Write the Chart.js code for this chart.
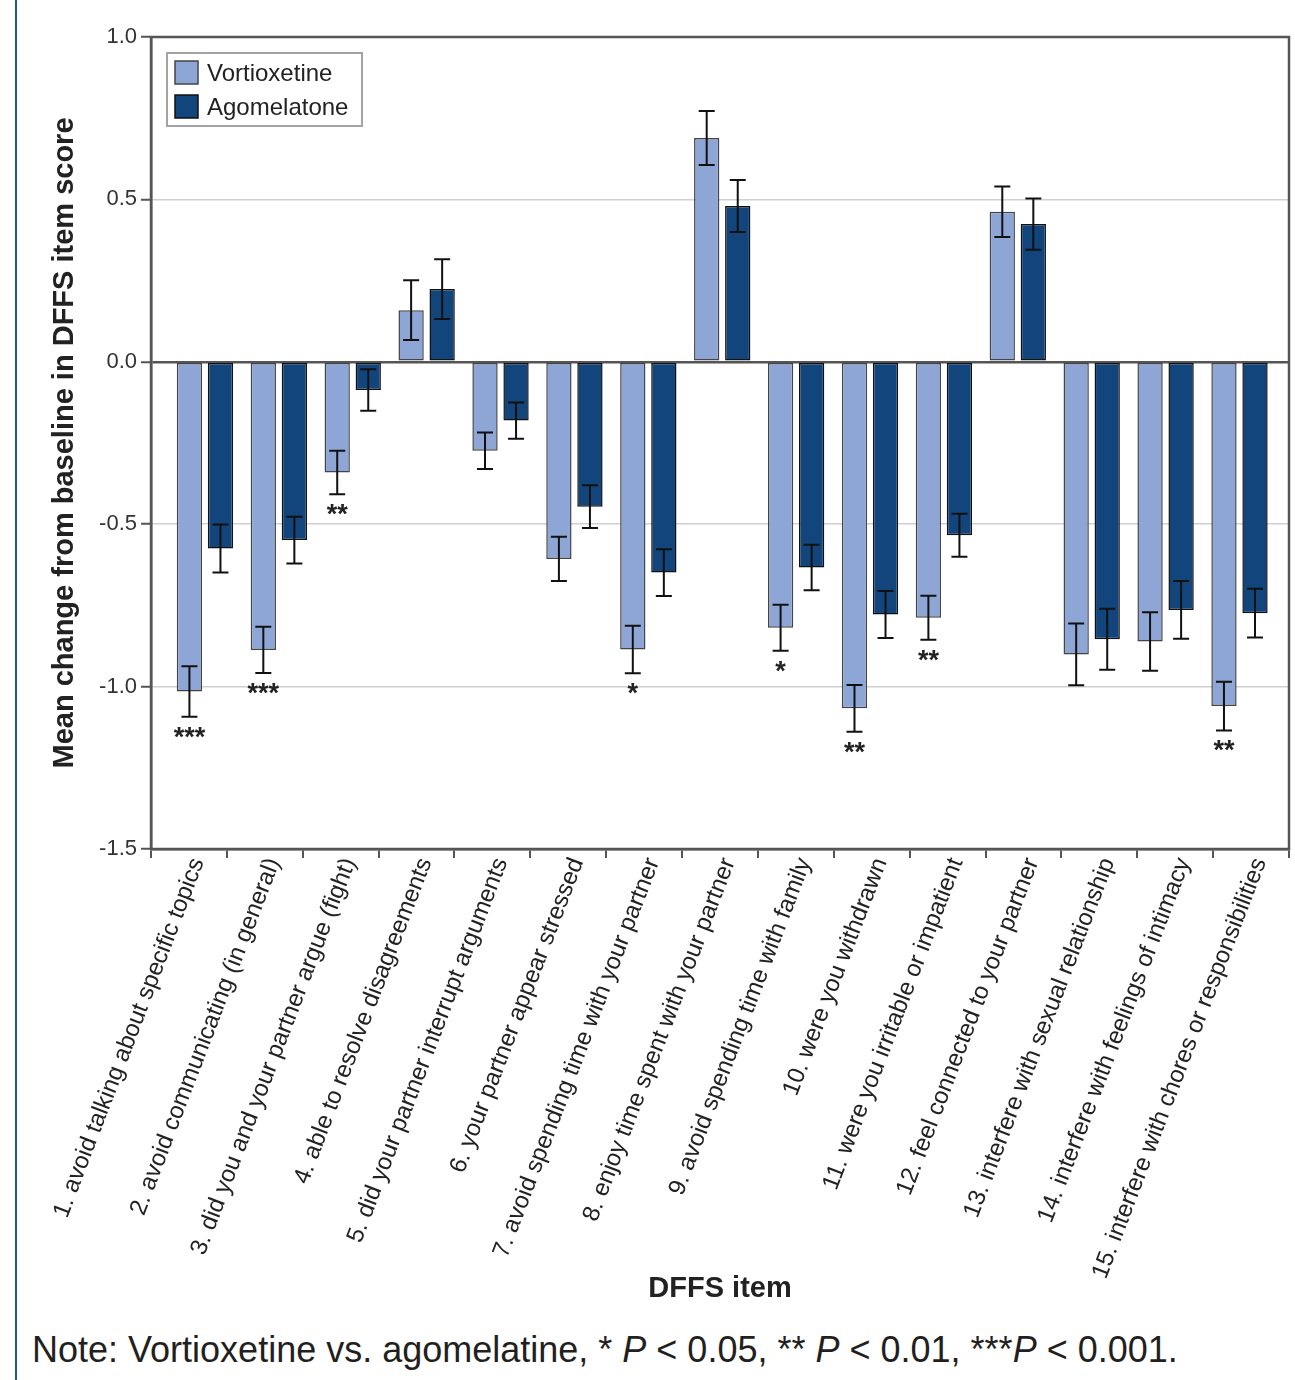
<!DOCTYPE html>
<html>
<head>
<meta charset="utf-8">
<script src="https://cdn.jsdelivr.net/npm/chart.js@4.4.1/dist/chart.umd.min.js"></script>
<style>
  html, body { margin: 0; padding: 0; background: #fff; }
  body { width: 1295px; height: 1380px; position: relative; overflow: hidden; font-family: "Liberation Sans", Arial, sans-serif; }
  #chart { position: absolute; left: 0; top: 0; }
  .side-rule { position: absolute; left: 15px; top: 0; width: 2px; height: 1380px; background: #1f5592; }
  .note { position: absolute; left: 32px; top: 1330px; font-size: 36px; line-height: 40px; color: #231f20; white-space: nowrap; }
  .note i { font-style: italic; }
</style>
</head>
<body>
<canvas id="chart" width="1295" height="1320"></canvas>
<div class="side-rule"></div>
<div class="note">Note: Vortioxetine vs. agomelatine, * <i>P</i> &lt; 0.05, ** <i>P</i> &lt; 0.01, ***<i>P</i> &lt; 0.001.</div>
<script>
// DFFS items (x axis categories)
const categories = [
  '1. avoid talking about specific topics',
  '2. avoid communicating (in general)',
  '3. did you and your partner argue (fight)',
  '4. able to resolve disagreements',
  '5. did your partner interrupt arguments',
  '6. your partner appear stressed',
  '7. avoid spending time with your partner',
  '8. enjoy time spent with your partner',
  '9. avoid spending time with family',
  '10. were you withdrawn',
  '11. were you irritable or impatient',
  '12. feel connected to your partner',
  '13. interfere with sexual relationship',
  '14. interfere with feelings of intimacy',
  '15. interfere with chores or responsibilities'
];

// Mean change from baseline and standard errors
const vortioxetine = [-1.015, -0.887, -0.341, 0.159, -0.274, -0.607, -0.886, 0.689, -0.819, -1.067, -0.788, 0.462, -0.901, -0.861, -1.060];
const vortioxetineErr = [0.078, 0.071, 0.067, 0.092, 0.056, 0.068, 0.073, 0.083, 0.071, 0.072, 0.068, 0.078, 0.095, 0.090, 0.075];
const agomelatone = [-0.575, -0.549, -0.087, 0.224, -0.181, -0.446, -0.649, 0.480, -0.633, -0.778, -0.534, 0.424, -0.854, -0.764, -0.774];
const agomelatoneErr = [0.074, 0.072, 0.064, 0.092, 0.056, 0.066, 0.072, 0.080, 0.070, 0.072, 0.066, 0.079, 0.094, 0.089, 0.075];

// Significance markers (vortioxetine vs. agomelatine)
const significance = ['***', '***', '**', '', '', '', '*', '', '*', '**', '**', '', '', '', '**'];

// Y axis tick values
const yTicks = [1.0, 0.5, 0.0, -0.5, -1.0, -1.5];

const FONT = '"Liberation Sans", Arial, sans-serif';
const errors = [vortioxetineErr, agomelatoneErr];

// Error bars with caps plus significance stars under the vortioxetine bars
const errorBarPlugin = {
  id: 'errorBars',
  afterDatasetsDraw(chart) {
    const { ctx } = chart;
    const y = chart.scales.y;
    ctx.save();
    chart.data.datasets.forEach((ds, d) => {
      const meta = chart.getDatasetMeta(d);
      meta.data.forEach((bar, i) => {
        const v = ds.data[i].y;
        const e = errors[d][i];
        const top = y.getPixelForValue(v + e);
        const bot = y.getPixelForValue(v - e);
        const half = 8;
        ctx.strokeStyle = '#111';
        ctx.lineWidth = 2;
        ctx.beginPath();
        ctx.moveTo(bar.x, top); ctx.lineTo(bar.x, bot);
        ctx.moveTo(bar.x - half, top); ctx.lineTo(bar.x + half, top);
        ctx.moveTo(bar.x - half, bot); ctx.lineTo(bar.x + half, bot);
        ctx.stroke();
        if (d === 0 && significance[i]) {
          ctx.fillStyle = '#222';
          ctx.font = 'bold 27px ' + FONT;
          ctx.textAlign = 'center';
          ctx.textBaseline = 'alphabetic';
          ctx.fillText(significance[i], bar.x, bot + 29);
        }
      });
    });
    ctx.restore();
  }
};

// Plot frame and boxed legend inside the plot area
const frameLegendPlugin = {
  id: 'frameLegend',
  afterDraw(chart) {
    const { ctx, chartArea: a } = chart;
    ctx.save();
    ctx.strokeStyle = '#555';
    ctx.lineWidth = 2.5;
    ctx.strokeRect(a.left, a.top, a.right - a.left, a.bottom - a.top);

    const bx = a.left + 16, by = a.top + 16, bw = 195, bh = 73;
    ctx.fillStyle = '#fff';
    ctx.fillRect(bx, by, bw, bh);
    ctx.strokeStyle = '#a3a3a3';
    ctx.lineWidth = 2;
    ctx.strokeRect(bx, by, bw, bh);
    chart.data.datasets.forEach((ds, d) => {
      const sy = by + 8 + d * 34;
      ctx.fillStyle = ds.backgroundColor;
      ctx.fillRect(bx + 8, sy, 23, 23);
      ctx.strokeStyle = ds.borderColor;
      ctx.lineWidth = 1.5;
      ctx.strokeRect(bx + 8, sy, 23, 23);
      ctx.fillStyle = '#222';
      ctx.font = '24px ' + FONT;
      ctx.textAlign = 'left';
      ctx.textBaseline = 'middle';
      ctx.fillText(ds.label, bx + 40, sy + 13);
    });
    ctx.restore();
  }
};

new Chart(document.getElementById('chart'), {
  type: 'bar',
  data: {
    labels: categories,
    datasets: [
      {
        label: 'Vortioxetine',
        data: vortioxetine.map((v, i) => ({ x: i + 1, y: v })),
        backgroundColor: '#8ea6d6',
        borderColor: '#444',
        borderWidth: 1.5,
        borderSkipped: false,
        xAxisID: 'xb',
        yAxisID: 'y'
      },
      {
        label: 'Agomelatone',
        data: agomelatone.map((v, i) => ({ x: i + 1, y: v })),
        backgroundColor: '#11457b',
        borderColor: '#111',
        borderWidth: 1.5,
        borderSkipped: false,
        xAxisID: 'xb',
        yAxisID: 'y'
      }
    ]
  },
  options: {
    responsive: false,
    animation: false,
    devicePixelRatio: 1,
    categoryPercentage: 0.84,
    barPercentage: 0.815,
    layout: { padding: { top: 37, right: 6, left: 0, bottom: 0 } },
    plugins: { legend: { display: false }, tooltip: { enabled: false } },
    scales: {
      xb: {
        type: 'linear',
        display: false,
        offset: false,
        min: 0.27,
        max: 15.67
      },
      x: {
        type: 'category',
        labels: categories,
        position: 'bottom',
        offset: true,
        afterFit(scale) { scale.height = 471; },
        grid: {
          offset: true,
          drawOnChartArea: false,
          color: '#555',
          lineWidth: 2,
          tickLength: 9
        },
        border: { display: true, color: '#555', width: 2.5 },
        ticks: {
          autoSkip: false,
          minRotation: 69,
          maxRotation: 69,
          padding: -4,
          labelOffset: 9,
          color: '#222',
          font: { family: FONT, size: 24 }
        },
        title: {
          display: true,
          text: 'DFFS item',
          color: '#222',
          font: { family: FONT, size: 29, weight: 'bold' },
          padding: { top: 0, bottom: 14 }
        }
      },
      y: {
        min: -1.5,
        max: 1.0,
        afterFit(scale) { scale.width = 151; },
        afterBuildTicks(scale) { scale.ticks = yTicks.map(v => ({ value: v })); },
        grid: {
          color: ctx => (ctx.tick && ctx.tick.value === 0 ? '#555' : '#d0d0d0'),
          lineWidth: ctx => (ctx.tick && ctx.tick.value === 0 ? 2.5 : 1.5),
          tickColor: '#555',
          tickLength: 10,
          tickWidth: 2
        },
        border: { display: true, color: '#555', width: 2.5 },
        ticks: {
          padding: 4,
          color: '#333',
          font: { family: FONT, size: 22 },
          callback: v => Number(v).toFixed(1)
        },
        title: {
          display: true,
          text: 'Mean change from baseline in DFFS item score',
          color: '#222',
          font: { family: FONT, size: 29, weight: 'bold' },
          padding: { top: 48, bottom: 0 }
        }
      }
    }
  },
  plugins: [errorBarPlugin, frameLegendPlugin]
});
</script>
</body>
</html>
